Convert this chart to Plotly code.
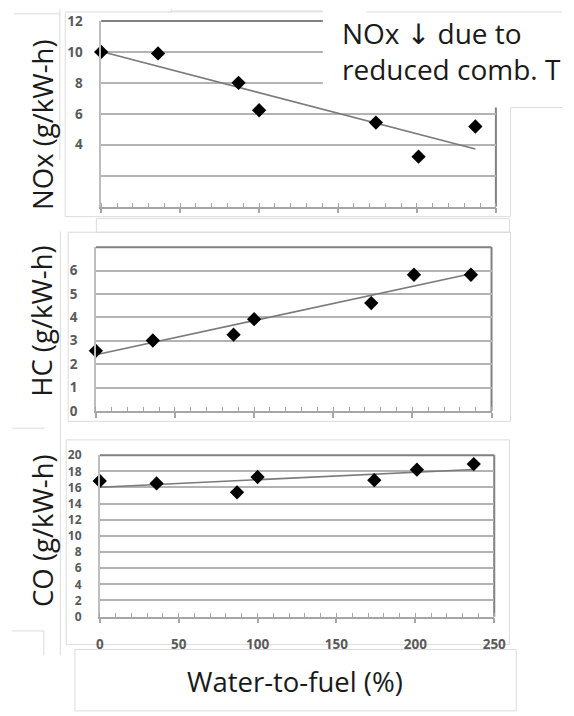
import numpy as np
import plotly.graph_objects as go

# ---------------- data ----------------
water_to_fuel = [0, 36, 87, 100, 174, 201, 237]
nox = [10.0, 9.9, 8.0, 6.23, 5.43, 3.23, 5.18]
hc = [2.57, 3.01, 3.26, 3.92, 4.61, 5.82, 5.82]
co = [16.8, 16.5, 15.4, 17.3, 16.9, 18.2, 18.9]

nox_ticks = [0, 2, 4, 6, 8, 10, 12]
nox_ticktext = ["", "", "4", "6", "8", "10", "12"]
hc_ticks = [0, 1, 2, 3, 4, 5, 6, 7]
hc_ticktext = ["0", "1", "2", "3", "4", "5", "6", ""]
co_ticks = list(range(0, 21, 2))
x_ticks = [0, 50, 100, 150, 200, 250]

W, H = 574, 716


def xd(a, b):
    return [a / W, b / W]


def yd(top, bottom):
    return [1 - bottom / H, 1 - top / H]


panels = [
    dict(y=nox, rng=[0, 12], ticks=nox_ticks, text=nox_ticktext, xpx=(100, 506), ypx=(12.3, 202.7), fs=13.5),
    dict(y=hc, rng=[0, 7], ticks=hc_ticks, text=hc_ticktext, xpx=(94.5, 501.5), ypx=(244.3, 412.3), fs=13.5),
    dict(y=co, rng=[0, 20], ticks=co_ticks, text=[str(t) for t in co_ticks], xpx=(98.5, 504.3), ypx=(457.7, 623.3), fs=12),
]

fig = go.Figure()
shapes = []
GRID = "#b3b3b3"
BORDER = "#808080"
BOX = "#dcdcdc"


def tickfont(size):
    return dict(family="Open Sans", size=size, color="#5a5a5a", weight="bold")


def box(x0, y0, x1, y1, color=BOX, width=1):
    shapes.append(dict(type="rect", xref="paper", yref="paper", x0=x0 / W, x1=x1 / W,
                       y0=1 - y1 / H, y1=1 - y0 / H, line=dict(color=color, width=width),
                       fillcolor="rgba(0,0,0,0)", layer="below"))


def seg(x0, y0, x1, y1, color=BOX, width=1, layer="below"):
    shapes.append(dict(type="line", xref="paper", yref="paper", x0=x0 / W, x1=x1 / W,
                       y0=1 - y0 / H, y1=1 - y1 / H, line=dict(color=color, width=width), layer=layer))


box(63, 3, 521, 213)
box(95, 215, 520, 229)
box(66, 229, 521, 423)
box(64, 442, 520, 652)
box(73, 657, 527, 720)
seg(57.5, 0, 57.5, 155)
seg(58, 228, 58, 663)
seg(10, 5, 58, 5)
seg(8, 430, 42, 430)
seg(8, 638, 41, 638)
seg(41, 638, 41, 663)

for i, p in enumerate(panels):
    n = "" if i == 0 else str(i + 1)
    xa, ya = "x" + n, "y" + n
    coef = np.polyfit(water_to_fuel, p["y"], 1)
    xs = [min(water_to_fuel), max(water_to_fuel)]
    ys = list(np.polyval(coef, xs))
    fig.add_trace(go.Scatter(x=xs, y=ys, mode="lines", line=dict(color="#7a7a7a", width=1.6),
                             xaxis=xa, yaxis=ya, showlegend=False, hoverinfo="skip"))
    fig.add_trace(go.Scatter(x=water_to_fuel, y=p["y"], mode="markers",
                             marker=dict(symbol="diamond", size=11, color="black"),
                             xaxis=xa, yaxis=ya, showlegend=False, cliponaxis=False))
    show_x = (i == 2)
    fig.update_layout(**{
        "xaxis" + n: dict(domain=xd(*p["xpx"]), range=[0, 250], anchor=ya,
                          tickvals=x_ticks, showticklabels=show_x, tickfont=tickfont(13.5),
                          showline=True, linecolor="#a6a6a6", linewidth=1.5,
                          ticks="outside", ticklen=5, tickcolor="#a6a6a6", tickwidth=1.5,
                          minor=dict(ticks="inside", ticklen=4, dtick=10, tickcolor="#a6a6a6", tickwidth=1.2,
                                     showgrid=False),
                          showgrid=False, zeroline=False, ticklabelstandoff=9, fixedrange=True),
        "yaxis" + n: dict(domain=yd(*p["ypx"]), range=p["rng"], anchor=xa,
                          tickvals=p["ticks"], ticktext=p["text"], tickfont=tickfont(p["fs"]),
                          showline=True, linecolor="#bdbdbd", linewidth=1.5,
                          ticks="", showgrid=True, gridcolor=GRID, gridwidth=1.5,
                          zeroline=False, ticklabelstandoff=14, fixedrange=True),
    })
    shapes.append(dict(type="line", xref=xa + " domain", yref=ya + " domain", x0=0, x1=1, y0=1, y1=1,
                       line=dict(color=BORDER, width=2), layer="below"))
    shapes.append(dict(type="line", xref=xa + " domain", yref=ya + " domain", x0=1, x1=1, y0=0, y1=1,
                       line=dict(color=BORDER, width=2), layer="below"))

# white cover behind the NOx note
shapes.append(dict(type="rect", xref="paper", yref="paper", x0=328 / W, x1=1.01, y0=1 - 101 / H, y1=1.01,
                   line=dict(width=0), fillcolor="white", layer="above"))
seg(373, 3, 574, 3, layer="above")
seg(521, 101, 574, 101, layer="above")
seg(172, 2, 574, 2)
seg(172, 0, 172, 4)

annotations = []
TITLEFONT = dict(family="Open Sans", size=27.5, color="#1a1a1a")
for text, yc in [("NOx (g/kW-h)", 119), ("HC (g/kW-h)", 320), ("CO (g/kW-h)", 534.5)]:
    annotations.append(dict(text=text, x=39 / W, y=1 - yc / H, xref="paper", yref="paper",
                            showarrow=False, textangle=-90, font=TITLEFONT,
                            xanchor="center", yanchor="middle"))
annotations.append(dict(text="Water-to-fuel (%)", x=299 / W, y=1 - 690 / H, xref="paper", yref="paper",
                        showarrow=False, font=TITLEFONT, xanchor="center", yanchor="middle"))
annotations.append(dict(text="NOx <span style=\"font-family:'DejaVu Sans'\">\u2193</span> due to<br>reduced comb. T",
                        x=346 / W, y=1 - 43 / H,
                        xref="paper", yref="paper", showarrow=False, align="left",
                        font=dict(family="Open Sans", size=28, color="#1a1a1a"),
                        xanchor="left", yanchor="middle"))

fig.update_layout(width=W, height=H, margin=dict(l=0, r=0, t=0, b=0), autosize=False,
                  paper_bgcolor="white", plot_bgcolor="white", shapes=shapes,
                  annotations=annotations, showlegend=False)

fig.write_html("out.html", config={"displayModeBar": False})
